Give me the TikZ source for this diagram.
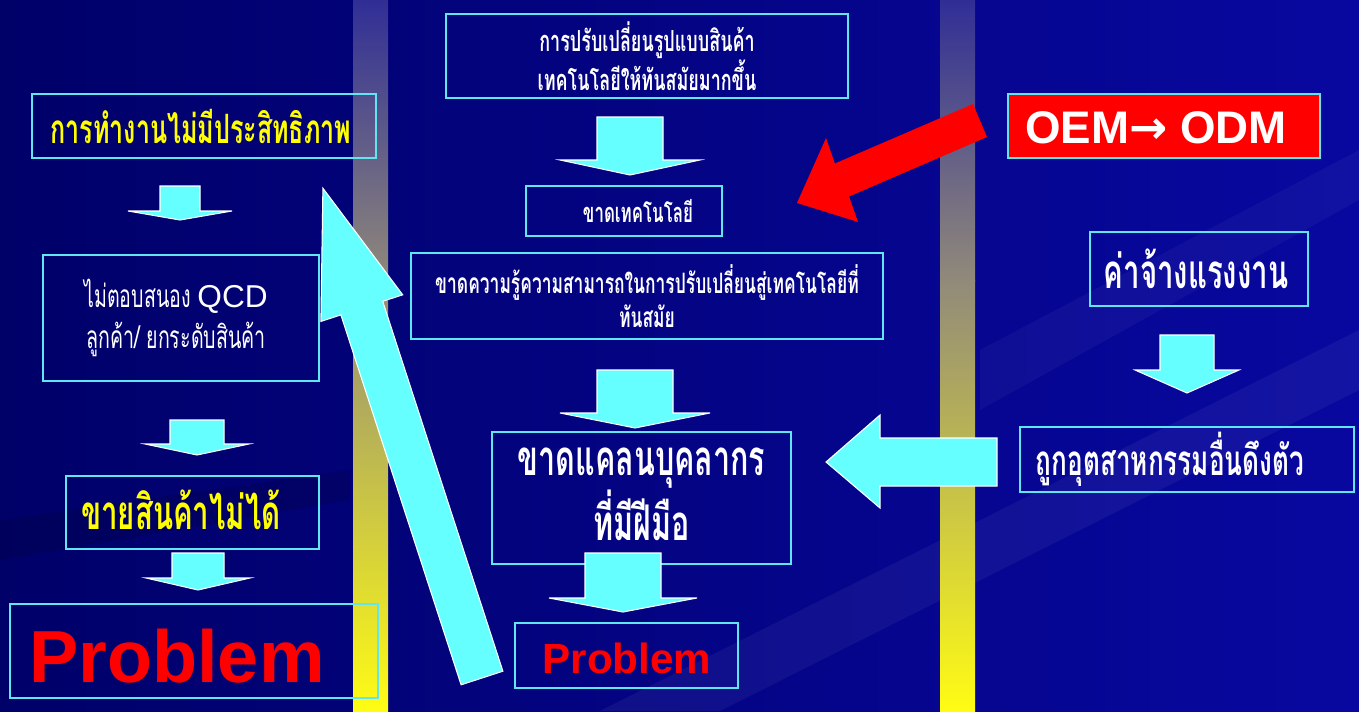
\documentclass[tikz,border=0pt]{standalone}
\usepackage{fontspec}
\setmainfont{Liberation Sans}
\newfontfamily\thai[Script=Thai,FakeStretch=0.62]{Loma}
\newfontfamily\arrowfont{DejaVu Sans}
\usetikzlibrary{positioning}
\definecolor{bgleft}{RGB}{0,0,105}
\definecolor{bgright}{RGB}{8,8,160}
\definecolor{bartop}{RGB}{48,46,150}
\definecolor{barmid}{RGB}{145,138,122}
\definecolor{barbot}{RGB}{255,252,20}
\definecolor{boxline}{RGB}{95,230,240}
\definecolor{arrowcyan}{RGB}{102,255,255}
\definecolor{txtyellow}{RGB}{255,255,0}
\definecolor{txtred}{RGB}{255,0,0}
\tikzset{tbox/.style = {draw=boxline, line width=0.9pt, inner sep=0pt},
         sz/.style 2 args = {minimum width=#1*0.02cm, minimum height=#2*0.02cm},
         blockarrow/.style = {fill=arrowcyan, draw=white, line width=0.6pt},
         redarrow/.style = {fill=txtred, draw=none},
         whitetxt/.style = {text=white, align=center, inner sep=0pt},
         yellowtxt/.style = {text=txtyellow, align=center, inner sep=0pt},
         redtxt/.style = {text=txtred, inner sep=0pt, font=\bfseries}}
% down block arrow: centre x, top y, shaft half width, head half width, head y, tip y
\newcommand\dnarrow[6]{%
  \draw [blockarrow] ({#1-#3},#2) -- ({#1+#3},#2) -- ({#1+#3},#5) -- ({#1+#4},#5)
        -- (#1,#6) -- ({#1-#4},#5) -- ({#1-#3},#5) -- cycle;}

\begin{document}
\begin{tikzpicture}[x=0.02cm, y=-0.02cm]
      \useasboundingbox (0,0) rectangle (1359,711);
      \fill [left color=bgleft, right color=bgright] (0,0) rectangle (1359,711);
      \fill [white, opacity=0.05] (600,711) -- (1359,330) -- (1359,390) -- (720,711) -- cycle;
      \fill [white, opacity=0.04] (980,350) -- (1359,150) -- (1359,200) -- (980,410) -- cycle;
      \fill [black, opacity=0.12] (0,520) -- (350,470) -- (350,500) -- (0,560) -- cycle;

      % columns
      \foreach \bx in {353, 940} {
        \shade [top color=bartop, bottom color=barmid] (\bx,0) rectangle (\bx+35,281);
        \shade [top color=barmid, bottom color=barbot] (\bx,280) rectangle (\bx+35,711);
      }

      % left column
      \node [tbox, sz={344}{64}] (ineff) at (204,126) {};
      \node [yellowtxt, font=\thai\bfseries\fontsize{23}{25}\selectfont] (inefft) at (201,126) {การทำงานไม่มีประสิทธิภาพ};
      \node [tbox, sz={276}{126}] (qcd) at (181,318) {};
      \node [whitetxt, font=\thai\fontsize{18}{23}\selectfont] (qcdt) at (176,318)
            {ไม่ตอบสนอง {\rmfamily QCD}\\ลูกค้า/ ยกระดับสินค้า};
      \node [tbox, sz={253}{73}] (sell) at (192.5,512.5) {};
      \node [yellowtxt, font=\thai\bfseries\fontsize{27}{29}\selectfont] (sellt) at (181,510) {ขายสินค้าไม่ได้};
      \node [tbox, sz={368}{94}] (probl) at (194,651) {};
      \node [redtxt, font=\bfseries\fontsize{42}{44}\selectfont] (problt) at (177,656) {Problem};

      % middle column
      \node [tbox, sz={402}{84}] (change) at (647,56) {};
      \node [whitetxt, font=\thai\bfseries\fontsize{16.5}{17}\selectfont] (changet) at (647,56)
            {การปรับเปลี่ยนรูปแบบสินค้า\\เทคโนโลยีให้ทันสมัยมากขึ้น};
      \node [tbox, sz={196}{50}] (notech) at (624,211) {};
      \node [whitetxt, font=\thai\bfseries\fontsize{15.5}{16}\selectfont] (notecht) at (638,211) {ขาดเทคโนโลยี};
      \node [tbox, sz={472}{86}] (noskill) at (647,296) {};
      \node [whitetxt, font=\thai\bfseries\fontsize{16}{19}\selectfont] (noskillt) at (647,296)
            {ขาดความรู้ความสามารถในการปรับเปลี่ยนสู่เทคโนโลยีที่\\ทันสมัย};
      \node [tbox, sz={299}{132}] (nostaff) at (641.5,498) {};
      \node [whitetxt, font=\thai\bfseries\fontsize{28}{30}\selectfont] (nostafft) at (641.5,494)
            {ขาดแคลนบุคลากร\\ที่มีฝีมือ};
      \node [tbox, sz={223}{65}] (probm) at (626.5,655.5) {};
      \node [redtxt, font=\bfseries\fontsize{24}{26}\selectfont] (probmt) at (627,658) {Problem};

      % right column
      \node [tbox, fill=txtred, sz={312}{64}] (oem) at (1164,126) {};
      \node [whitetxt, font=\bfseries\fontsize{26}{28}\selectfont] (oemt) at (1156,128)
            {OEM{\arrowfont\bfseries →} ODM};
      \node [tbox, sz={218}{74}] (wage) at (1199,269) {};
      \node [whitetxt, font=\thai\bfseries\fontsize{27}{29}\selectfont] (waget) at (1196,269) {ค่าจ้างแรงงาน};
      \node [tbox, sz={334}{65}] (pull) at (1187,459.5) {};
      \node [whitetxt, font=\thai\bfseries\fontsize{24}{26}\selectfont] (pullt) at (1170,459) {ถูกอุตสาหกรรมอื่นดึงตัว};

      % block arrows
      \dnarrow{180}{186}{20}{52}{211}{220}
      \dnarrow{197}{420}{27}{52}{444}{455}
      \dnarrow{198}{553}{26}{52}{578}{590}
      \dnarrow{630}{117}{33}{70}{160}{175}
      \dnarrow{635}{370}{38}{75}{413}{428}
      \dnarrow{623}{553}{38}{74}{598}{612}
      \dnarrow{1187}{335}{27}{52}{370}{393}
      \draw [blockarrow] (997,438) -- (997,486) -- (880,486) -- (880,508) -- (826,462)
            -- (880,415) -- (880,438) -- cycle;
      \draw [blockarrow] (502.9,671.2) -- (382.7,301.3) -- (402.7,294.8) -- (322.9,188.2)
            -- (320.9,321.4) -- (340.9,314.9) -- (461.1,684.8) -- cycle;
      \fill [redarrow] (987,137) -- (849.1,196.5) -- (858,222) -- (797,203) -- (826,138)
            -- (834.9,163.5) -- (973,104) -- cycle;
\end{tikzpicture}
\end{document}
